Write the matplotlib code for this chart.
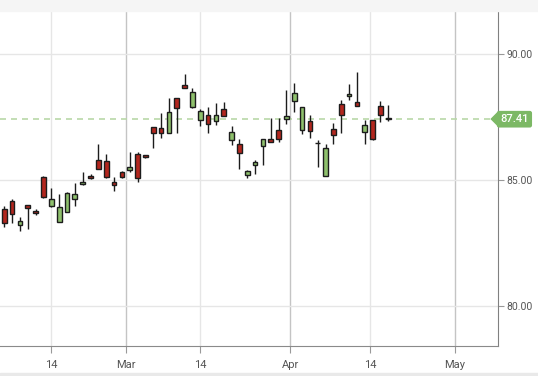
import matplotlib.pyplot as plt
import matplotlib.patches as mpatches

# daily OHLC (one entry per trading day, left to right)
opens = [83.85, 84.15, 83.20, 84.00, 83.77, 85.11, 83.96, 83.33, 83.73, 84.26,
         84.83, 85.15, 85.78, 85.74, 84.91, 85.33, 85.41, 86.02, 85.99, 87.09,
         87.05, 86.85, 88.24, 88.76, 87.91, 87.37, 87.57, 87.33, 87.82, 86.58,
         86.42, 85.19, 85.61, 86.34, 86.62, 86.97, 87.41, 88.15, 86.97, 87.33,
         86.46, 85.15, 87.01, 88.00, 88.32, 88.08, 86.89, 87.37, 87.92, 87.47]
highs = [83.97, 84.23, 83.52, 84.02, 83.85, 85.16, 84.67, 84.46, 84.52, 84.88,
         85.32, 85.25, 86.43, 86.03, 85.13, 85.35, 86.10, 86.10, 86.00, 87.10,
         87.65, 88.25, 88.25, 89.19, 88.64, 87.82, 87.90, 88.06, 88.10, 87.14,
         86.63, 85.39, 85.79, 86.62, 87.47, 87.47, 88.58, 88.85, 87.88, 87.58,
         86.58, 86.42, 87.25, 88.16, 88.80, 89.27, 87.37, 87.38, 88.12, 87.96]
lows = [83.13, 83.28, 82.99, 83.06, 83.60, 84.29, 83.92, 83.33, 83.73, 83.96,
        84.80, 85.05, 85.42, 85.07, 84.58, 85.07, 85.31, 84.93, 85.86, 86.26,
        86.68, 86.85, 86.88, 88.66, 87.87, 87.15, 86.88, 87.17, 87.53, 86.40,
        85.42, 85.09, 85.25, 85.60, 86.52, 86.52, 87.23, 87.71, 86.84, 86.65,
        85.53, 85.15, 86.42, 86.85, 88.16, 87.92, 86.42, 86.58, 87.29, 87.33]
closes = [83.29, 83.65, 83.37, 83.90, 83.68, 84.31, 84.23, 83.92, 84.48, 84.44,
          84.91, 85.07, 85.45, 85.11, 84.79, 85.11, 85.50, 85.07, 85.91, 86.85,
          86.88, 87.69, 87.85, 88.66, 88.48, 87.73, 87.21, 87.57, 87.53, 86.89,
          86.06, 85.35, 85.70, 86.62, 86.52, 86.63, 87.53, 88.44, 87.88, 86.93,
          86.46, 86.26, 86.77, 87.57, 88.40, 87.92, 87.17, 86.62, 87.57, 87.41]

# x axis labels (positions in trading-day index units)
tick_pos = [6, 15.5, 25, 36.5, 46.7, 57.5]
tick_labels = ['14', 'Mar', '14', 'Apr', '14', 'May']
month_start = [False, True, False, True, False, True]
y_ticks = [80, 85, 90]

UP = '#8ec06c'
DOWN = '#b3261e'
EDGE = '#1c1c1c'
TAG = '#7cb865'

plt.rcParams['font.family'] = ['Roboto', 'DejaVu Sans']

fig = plt.figure(figsize=(5.38, 3.76), dpi=100)
ax = fig.add_axes([0, 0.0803, 0.9257, 0.8896])

# grey bands top and bottom
fig.patches.append(mpatches.Rectangle((0, 0.970), 1, 0.03, transform=fig.transFigure,
                                      color='#f5f5f5', zorder=0))
fig.patches.append(mpatches.Rectangle((0, 0), 1, 0.007, transform=fig.transFigure,
                                      color='#e9e9e9', zorder=0))

x = list(range(len(opens)))
bottoms = [min(o, c) for o, c in zip(opens, closes)]
heights = [abs(c - o) for o, c in zip(opens, closes)]
colors = [UP if c >= o else DOWN for o, c in zip(opens, closes)]

ax.vlines(x, lows, highs, color=EDGE, lw=1, zorder=2)
ax.bar(x, heights, bottom=bottoms, width=0.6, color=colors, edgecolor=EDGE,
       linewidth=1, zorder=3)

# grid
for p, m in zip(tick_pos, month_start):
    ax.axvline(p, color='#c4c4c4' if m else '#e6e6e6', lw=1, zorder=0)
for v in y_ticks:
    ax.axhline(v, color='#e6e6e6', lw=1, zorder=0)

# last price line + tag
last = closes[-1]
ax.axhline(last, color='#b9d8a8', lw=1.2, ls=(0, (3.6, 3)), zorder=1)
ax.plot([0.999], [last], marker=[(-1, 0), (0, 1), (0, -1)], ms=11,
        color=TAG, transform=ax.get_yaxis_transform(), clip_on=False, zorder=5)
ax.text(1.033, last, f'{last:.2f}', transform=ax.get_yaxis_transform(),
        ha='center', va='center', color='white', fontsize=8, fontweight='medium',
        bbox=dict(boxstyle='round,pad=0.3,rounding_size=0.2', fc=TAG, ec='none'),
        zorder=6, clip_on=False)

ax.set_xlim(-0.55, 63.0)
ax.set_ylim(78.42, 91.69)

ax.set_xticks(tick_pos)
ax.set_xticklabels(tick_labels)
ax.set_yticks(y_ticks)
ax.set_yticklabels([f'{v:.2f}' for v in y_ticks])
ax.yaxis.tick_right()
ax.tick_params(axis='x', length=5, color='#999999', labelcolor='#555555',
               labelsize=8, pad=5)
ax.tick_params(axis='y', length=4, color='#999999', labelcolor='#555555',
               labelsize=7.5, pad=2)

for s in ['left', 'top']:
    ax.spines[s].set_visible(False)
ax.spines['right'].set_color('#808080')
ax.spines['bottom'].set_color('#8a8a8a')

fig.savefig('out.png', dpi=100)
